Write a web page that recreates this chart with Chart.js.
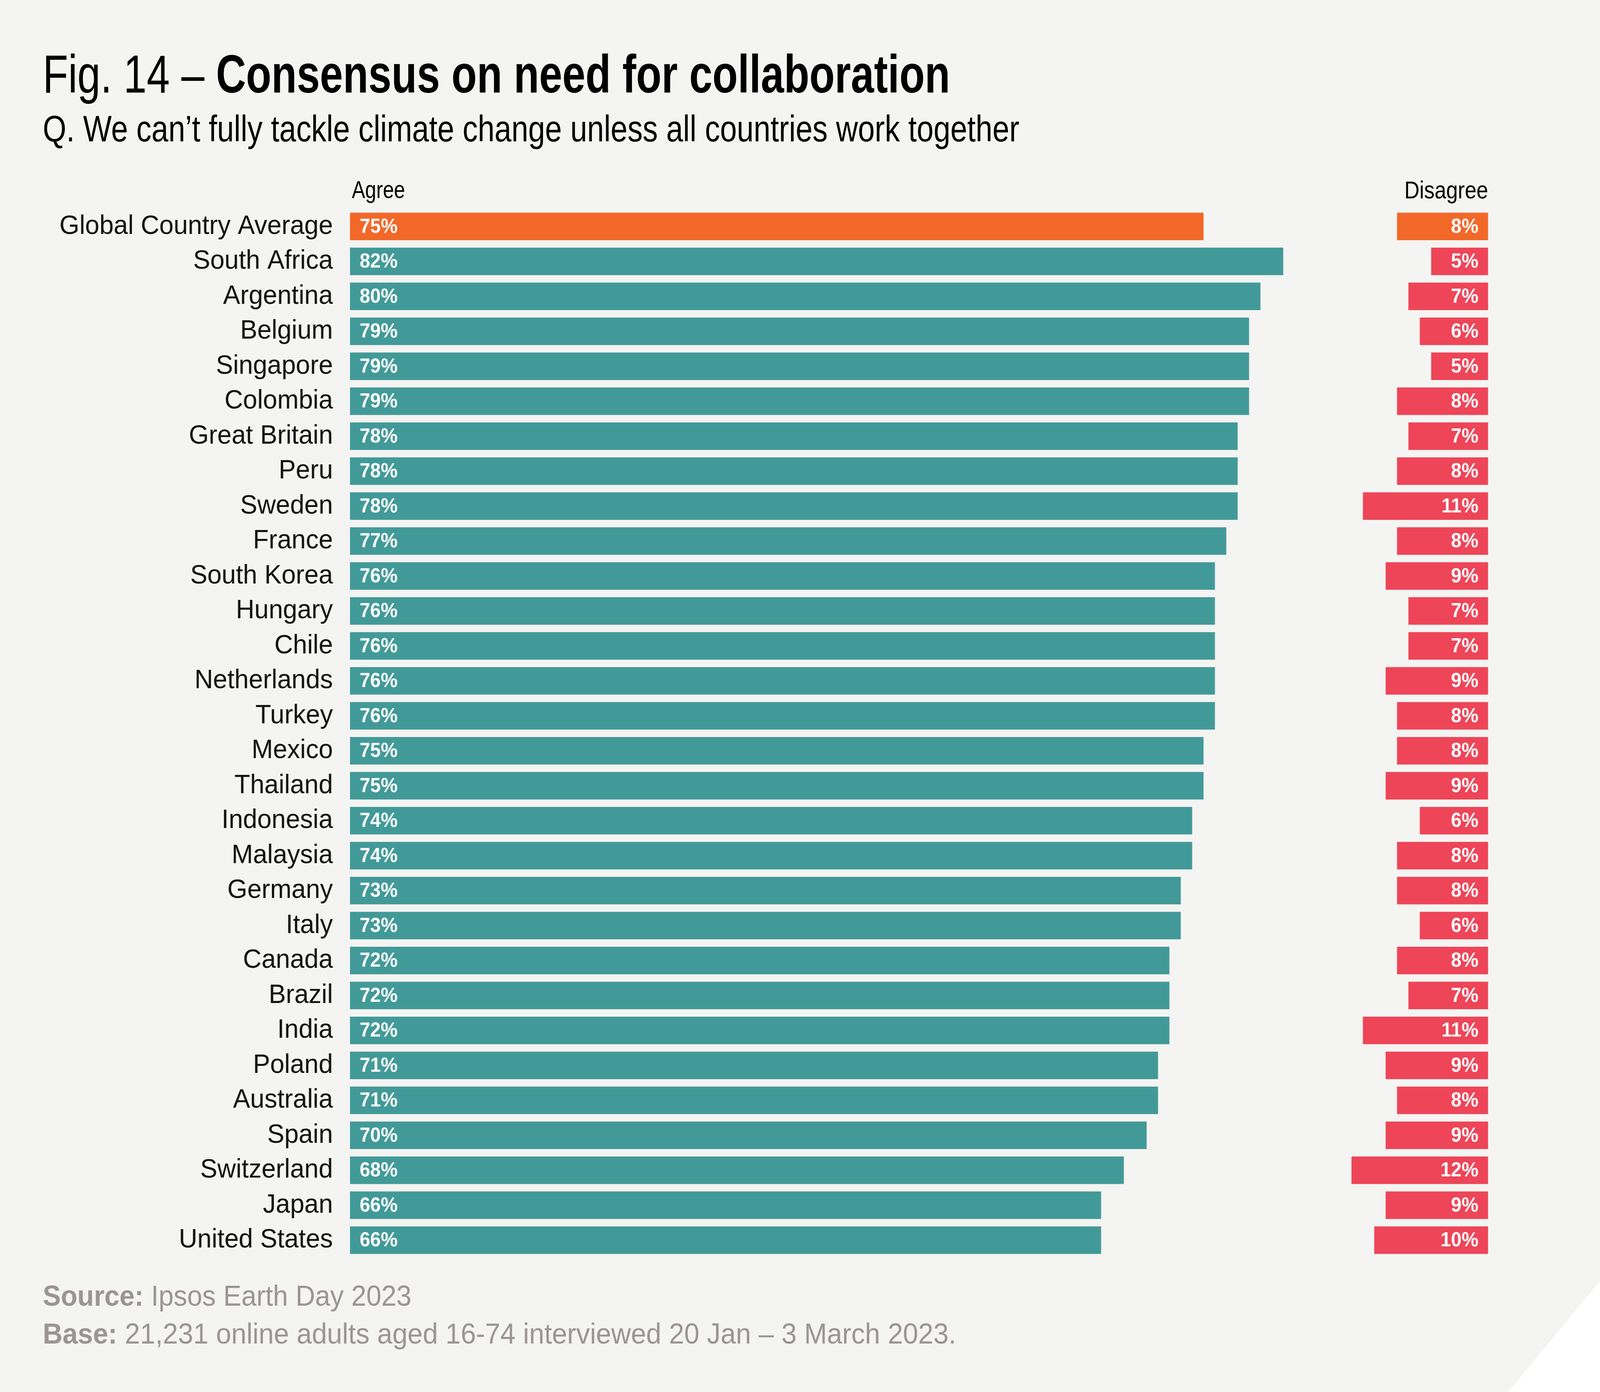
<!DOCTYPE html>
<html>
<head>
<meta charset="utf-8">
<script src="https://cdn.jsdelivr.net/npm/chart.js@4.4.0/dist/chart.umd.min.js"></script>
<style>
  html, body { margin: 0; padding: 0; background: #ffffff; overflow: hidden; }
  #stage {
    position: absolute; left: 0; top: 0; width: 4302px; height: 3564px;
    transform-origin: left top;
  }
  #page {
    position: absolute; left: 0; top: 0; width: 4302px; height: 3564px;
    background: #f4f4f2;
    clip-path: polygon(0 0, 100% 0, 100% 3280px, 4055px 100%, 0 100%);
  }
  .txt {
    position: absolute; white-space: nowrap; line-height: 1;
    font-family: "Liberation Sans Narrow", "Liberation Sans", Arial, sans-serif;
    transform-origin: left top;
  }
  .plain { font-family: "Liberation Sans", Arial, sans-serif; }
  #chartBox { position: absolute; left: 0; top: 0; width: 4302px; height: 3564px; }
</style>
</head>
<body>
<div id="stage">
<div id="page"></div>
<div class="txt" style="left:115px; top:120px; font-size:138px; color:#000;" data-w="2440">Fig. 14 – <b>Consensus on need for collaboration</b></div>
<div class="txt" style="left:115px; top:283px; font-size:94px; color:#000;" data-w="2626">Q. We can’t fully tackle climate change unless all countries work together</div>
<div class="txt" style="left:946px; top:454px; font-size:63px; color:#000;" data-w="143">Agree</div>
<div class="txt" style="left:3776px; top:455px; font-size:63px; color:#000;" data-w="225">Disagree</div>
<div class="txt plain" style="left:115px; top:3280px; font-size:75px; color:#9b9593;" data-w="991"><b>Source:</b> Ipsos Earth Day 2023</div>
<div class="txt plain" style="left:115px; top:3377px; font-size:75px; color:#9b9593;" data-w="2456"><b>Base:</b> 21,231 online adults aged 16-74 interviewed 20 Jan – 3 March 2023.</div>
<div id="chartBox"><canvas id="chart"></canvas></div>
</div>
<script>
const countries = [
  "Global Country Average", "South Africa", "Argentina", "Belgium", "Singapore",
  "Colombia", "Great Britain", "Peru", "Sweden", "France", "South Korea",
  "Hungary", "Chile", "Netherlands", "Turkey", "Mexico", "Thailand",
  "Indonesia", "Malaysia", "Germany", "Italy", "Canada", "Brazil", "India",
  "Poland", "Australia", "Spain", "Switzerland", "Japan", "United States"
];
const agree = [75, 82, 80, 79, 79, 79, 78, 78, 78, 77, 76, 76, 76, 76, 76, 75, 75, 74, 74, 73, 73, 72, 72, 72, 71, 71, 70, 68, 66, 66];
const disagree = [8, 5, 7, 6, 5, 8, 7, 8, 11, 8, 9, 7, 7, 9, 8, 8, 9, 6, 8, 8, 6, 8, 7, 11, 9, 8, 9, 12, 9, 10];

const ORANGE = "#f26829";
const TEAL = "#429a98";
const RED = "#ee4558";

// stretch the 4302x3564 layout over whatever the viewport really is
const sx = window.innerWidth / 4302;
const sy = window.innerHeight / 3564;
document.getElementById("stage").style.transform = "scale(" + sx + "," + sy + ")";

// squeeze the condensed-looking texts to the widths measured on the picture
document.fonts.ready.then(() => {
  document.querySelectorAll("[data-w]").forEach(el => {
    const w = el.offsetWidth;
    const target = +el.dataset.w;
    el.style.transform = "scaleX(" + (target / w) + ")";
  });
});

// value labels inside the bars
const barLabels = {
  id: "barLabels",
  afterDatasetsDraw(chart) {
    const ctx = chart.ctx;
    ctx.save();
    ctx.fillStyle = "#ffffff";
    ctx.font = 'bold 51px "Liberation Sans", Arial, sans-serif';
    ctx.textBaseline = "middle";
    chart.getDatasetMeta(0).data.forEach((bar, i) => {
      ctx.textAlign = "left";
      ctx.fillText(agree[i] + "%", Math.min(bar.x, bar.base) + 26, bar.y + 2);
    });
    chart.getDatasetMeta(1).data.forEach((bar, i) => {
      ctx.textAlign = "right";
      ctx.fillText(disagree[i] + "%", Math.max(bar.x, bar.base) - 26, bar.y + 2);
    });
    ctx.restore();
  }
};

new Chart(document.getElementById("chart"), {
  type: "bar",
  data: {
    labels: countries,
    datasets: [
      {
        label: "Agree",
        data: agree,
        backgroundColor: agree.map((v, i) => i === 0 ? ORANGE : TEAL),
        grouped: false,
        barPercentage: 0.79,
        categoryPercentage: 1
      },
      {
        label: "Disagree",
        data: disagree.map(d => [100 - d, 100]),
        backgroundColor: disagree.map((v, i) => i === 0 ? ORANGE : RED),
        grouped: false,
        barPercentage: 0.79,
        categoryPercentage: 1
      }
    ]
  },
  options: {
    indexAxis: "y",
    responsive: true,
    maintainAspectRatio: false,
    animation: false,
    layout: { padding: { top: 535, bottom: 344, right: 301, left: 0 } },
    plugins: { legend: { display: false }, tooltip: { enabled: false } },
    scales: {
      x: { min: 0, max: 100, display: false },
      y: {
        grid: { display: false, drawTicks: false },
        border: { display: false },
        ticks: {
          padding: 46,
          color: "#111111",
          font: { family: '"Liberation Sans", Arial, sans-serif', size: 69 }
        },
        afterFit(axis) { axis.width = 941; }
      }
    }
  },
  plugins: [barLabels]
});
</script>
</body>
</html>
